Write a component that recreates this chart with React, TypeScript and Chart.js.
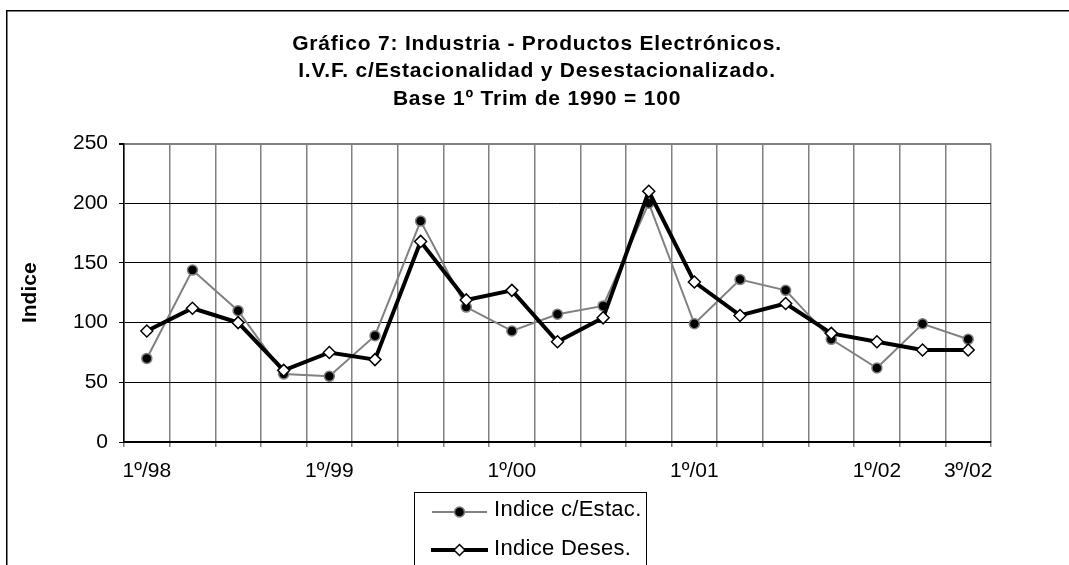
import { useEffect, useRef } from 'react';
import { Chart, registerables } from 'chart.js';

Chart.register(...registerables);

const FONT = "'Liberation Sans', Arial, Helvetica, sans-serif";

const titleLines = [
  'Gráfico 7: Industria - Productos Electrónicos.',
  'I.V.F. c/Estacionalidad y Desestacionalizado.',
  'Base 1º Trim de 1990 = 100',
];

const quarters = [
  '1º/98', '2º/98', '3º/98', '4º/98',
  '1º/99', '2º/99', '3º/99', '4º/99',
  '1º/00', '2º/00', '3º/00', '4º/00',
  '1º/01', '2º/01', '3º/01', '4º/01',
  '1º/02', '2º/02', '3º/02',
];

const shownTickLabels = ['1º/98', '1º/99', '1º/00', '1º/01', '1º/02', '3º/02'];

const indiceConEstac = [70, 144, 110, 57, 55, 89, 185, 113, 93, 107, 114, 200, 99, 136, 127, 86, 62, 99, 86];
const indiceDeses = [93, 112, 100, 60, 75, 69, 168, 119, 127, 84, 104, 210, 134, 106, 116, 91, 84, 77, 77];

const seriesNames = ['Indice c/Estac.', 'Indice Deses.'];
const yAxisTitle = 'Indice';
const yMin = 0;
const yMax = 250;
const yStep = 50;

const decorPlugin = {
  id: 'decor',
  beforeDraw(chart: any) {
    const ctx = chart.ctx;
    ctx.save();
    ctx.fillStyle = '#ffffff';
    ctx.fillRect(0, 0, chart.width, chart.height);
    ctx.restore();
  },
  afterDraw(chart: any) {
    const ctx = chart.ctx as CanvasRenderingContext2D;
    ctx.save();
    // outer frame
    ctx.strokeStyle = '#000';
    ctx.lineWidth = 1.5;
    ctx.strokeRect(6.75, 10.75, 2000, 2000);

    // title
    ctx.fillStyle = '#000';
    ctx.font = `bold 21px ${FONT}`;
    ctx.textAlign = 'center';
    ctx.textBaseline = 'alphabetic';
    (ctx as any).letterSpacing = '0.8px';
    const baselines = [49.5, 77, 105];
    titleLines.forEach((t, i) => ctx.fillText(t, 537, baselines[i]));
    (ctx as any).letterSpacing = '0px';

    // legend box
    ctx.fillStyle = '#fff';
    ctx.fillRect(414.5, 492.5, 232, 200);
    ctx.strokeStyle = '#000';
    ctx.lineWidth = 1;
    ctx.strokeRect(414.5, 492.5, 232, 200);

    const rows = [512, 550];
    // row 1: gray line + black circle
    ctx.strokeStyle = '#808080';
    ctx.lineWidth = 2;
    ctx.beginPath();
    ctx.moveTo(432, rows[0]);
    ctx.lineTo(487, rows[0]);
    ctx.stroke();
    ctx.beginPath();
    ctx.arc(459.5, rows[0], 5, 0, Math.PI * 2);
    ctx.fillStyle = '#000';
    ctx.fill();
    ctx.lineWidth = 1.5;
    ctx.strokeStyle = '#808080';
    ctx.stroke();

    // row 2: thick black line + white diamond
    ctx.strokeStyle = '#000';
    ctx.lineWidth = 4;
    ctx.beginPath();
    ctx.moveTo(431, rows[1]);
    ctx.lineTo(488, rows[1]);
    ctx.stroke();
    ctx.beginPath();
    const r = 5.5;
    ctx.moveTo(459.5 - r, rows[1]);
    ctx.lineTo(459.5, rows[1] - r);
    ctx.lineTo(459.5 + r, rows[1]);
    ctx.lineTo(459.5, rows[1] + r);
    ctx.closePath();
    ctx.fillStyle = '#fff';
    ctx.fill();
    ctx.lineWidth = 1.5;
    ctx.strokeStyle = '#000';
    ctx.stroke();

    // legend texts
    ctx.fillStyle = '#000';
    ctx.font = `22px ${FONT}`;
    (ctx as any).letterSpacing = '0.3px';
    ctx.textAlign = 'left';
    ctx.fillText(seriesNames[0], 494, 516);
    ctx.fillText(seriesNames[1], 494, 555);
    ctx.restore();
  },
};

export default function App() {
  const ref = useRef<HTMLCanvasElement>(null);

  useEffect(() => {
    const canvas = ref.current!;
    const chart = new Chart(canvas, {
      type: 'line',
      data: {
        labels: quarters,
        datasets: [
          {
            label: seriesNames[0],
            data: indiceConEstac,
            borderColor: '#808080',
            borderWidth: 2,
            pointStyle: 'circle',
            pointRadius: 5,
            pointBackgroundColor: '#000',
            pointBorderColor: '#808080',
            pointBorderWidth: 1.5,
            tension: 0,
            order: 1,
          },
          {
            label: seriesNames[1],
            data: indiceDeses,
            borderColor: '#000',
            borderWidth: 4,
            pointStyle: 'rectRot',
            pointRadius: 6,
            pointBackgroundColor: '#fff',
            pointBorderColor: '#000',
            pointBorderWidth: 1.5,
            tension: 0,
            order: 0,
          },
        ],
      },
      options: {
        animation: false,
        responsive: false,
        maintainAspectRatio: false,
        layout: { padding: { left: 0, right: 78, top: 143.5, bottom: 0 } },
        plugins: {
          legend: { display: false },
          title: { display: false },
          tooltip: { enabled: false },
        },
        scales: {
          x: {
            type: 'category',
            offset: true,
            grid: {
              offset: true,
              color: '#808080',
              lineWidth: 1.5,
              tickLength: 5,
              tickColor: '#808080',
              drawTicks: true,
            },
            border: { display: true, color: '#000', width: 1.5 },
            ticks: {
              autoSkip: false,
              maxRotation: 0,
              minRotation: 0,
              padding: 12,
              color: '#000',
              font: { family: FONT, size: 21 },
              callback: function (this: any, value: any) {
                const lbl = this.getLabelForValue(value);
                return shownTickLabels.includes(lbl) ? lbl : '';
              },
            },
            afterFit: (s: any) => {
              s.height = 123;
            },
          },
          y: {
            min: yMin,
            max: yMax,
            grid: {
              color: (c: any) => (c.tick && c.tick.value === yMax ? '#808080' : '#000'),
              lineWidth: (c: any) => (c.tick && c.tick.value === yMax ? 2 : 1),
              tickLength: 5,
              tickColor: '#000',
            },
            border: { display: true, color: '#000', width: 1.5 },
            ticks: {
              stepSize: yStep,
              padding: 11,
              color: '#000',
              font: { family: FONT, size: 21 },
            },
            title: {
              display: true,
              text: yAxisTitle,
              color: '#000',
              font: { family: FONT, size: 21, weight: 'bold' },
              padding: { top: 18, bottom: 0 },
            },
            afterFit: (s: any) => {
              s.width = 124;
            },
          },
        },
      },
      plugins: [decorPlugin],
    } as any);
    return () => chart.destroy();
  }, []);

  return (
    <div
      style={{
        position: 'fixed',
        left: 0,
        top: 0,
        width: 1069,
        height: 565,
        overflow: 'hidden',
        background: '#fff',
      }}
    >
      <canvas ref={ref} width={1069} height={565} style={{ display: 'block', width: 1069, height: 565 }} />
    </div>
  );
}
